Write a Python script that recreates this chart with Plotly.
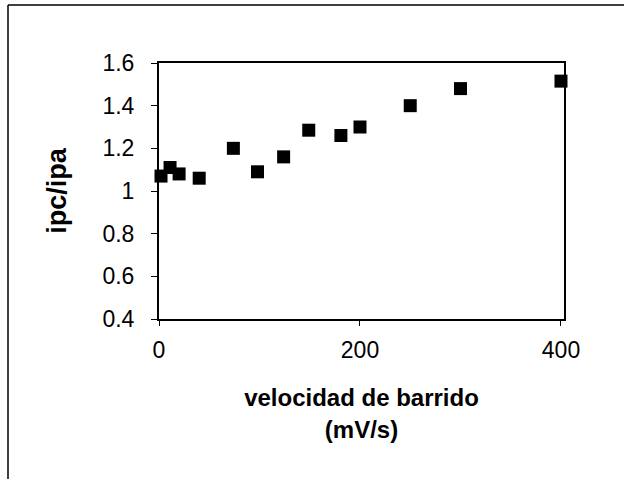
import plotly.graph_objects as go

# Data
velocidad = [2, 11, 20, 40, 74, 98, 124, 149, 181, 200, 250, 300, 400]
ipc_ipa = [1.07, 1.11, 1.08, 1.06, 1.20, 1.09, 1.16, 1.285, 1.26, 1.30, 1.40, 1.48, 1.515]

x_ticks = [0, 200, 400]
y_ticks = [0.4, 0.6, 0.8, 1.0, 1.2, 1.4, 1.6]
y_tick_text = ["0.4", "0.6", "0.8", "1", "1.2", "1.4", "1.6"]

fig = go.Figure()
fig.add_trace(go.Scatter(
    x=velocidad, y=ipc_ipa, mode="markers",
    marker=dict(symbol="square", size=13, color="black"),
    showlegend=False, cliponaxis=False,
))

font = "Liberation Sans, Arial, sans-serif"
fig.update_layout(
    width=624, height=479,
    margin=dict(l=159, r=60, t=63, b=160),
    paper_bgcolor="white", plot_bgcolor="white",
    font=dict(family=font, color="black", size=19),
    xaxis=dict(
        range=[0, 403], tickvals=x_ticks, ticks="outside", ticklen=5,
        tickcolor="black", tickwidth=1, showgrid=False, zeroline=False,
        showline=True, linecolor="black", linewidth=2, mirror=True,
        tickfont=dict(size=23), ticklabelstandoff=4,
        title=dict(text="<b>velocidad de barrido<br>(mV/s)</b>",
                   font=dict(size=24), standoff=28),
    ),
    yaxis=dict(
        range=[0.4, 1.6], tickvals=y_ticks, ticktext=y_tick_text,
        ticks="outside", ticklen=6, tickcolor="black", tickwidth=1,
        showgrid=False, zeroline=False,
        showline=True, linecolor="black", linewidth=2, mirror=True,
        tickfont=dict(size=23), ticklabelstandoff=12,
        title=dict(text="<b>ipc/ipa</b>", font=dict(size=27), standoff=28),
    ),
    shapes=[
        dict(type="line", xref="paper", yref="paper",
             x0=-151/405, x1=-151/405, y0=-160/256 - 0.05, y1=(319 - 5) / 256,
             line=dict(color="black", width=1.5)),
        dict(type="line", xref="paper", yref="paper",
             x0=-151/405, x1=(624 - 159) / 405 + 0.05, y0=(319 - 5) / 256, y1=(319 - 5) / 256,
             line=dict(color="black", width=1.5)),
    ],
)

fig.write_html("out.html")
